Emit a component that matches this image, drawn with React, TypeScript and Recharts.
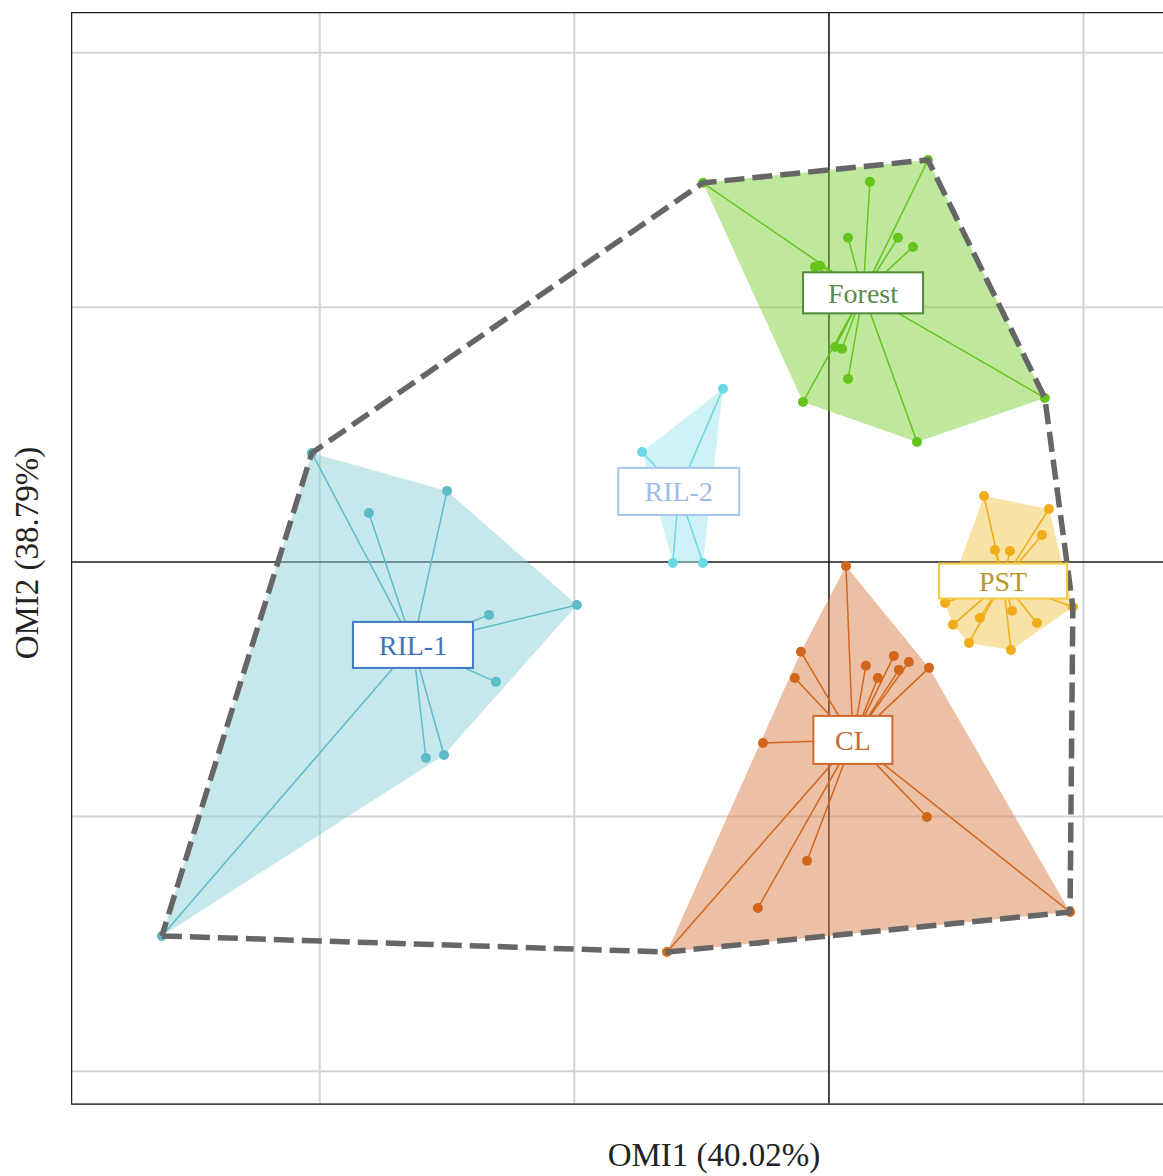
import { Scatter, ScatterChart, XAxis, YAxis } from "recharts";

type Pt = { x: number; y: number };

// OMI scores (OMI1, OMI2) for each site, grouped by land use
const forestPts: Pt[] = [
  { x: 0.161, y: 1.493 }, { x: 0.075, y: 1.273 }, { x: 0.271, y: 1.273 }, { x: 0.33, y: 1.237 },
  { x: -0.055, y: 1.159 }, { x: -0.035, y: 1.163 }, { x: 0.024, y: 0.844 }, { x: 0.051, y: 0.837 },
  { x: 0.075, y: 0.719 }, { x: -0.102, y: 0.628 }, { x: 0.346, y: 0.471 }, { x: 0.848, y: 0.644 },
  { x: 0.389, y: 1.579 }, { x: -0.495, y: 1.489 }
];
const ril2Pts: Pt[] = [
  { x: -0.416, y: 0.68 }, { x: -0.734, y: 0.432 }, { x: -0.613, y: -0.004 }, { x: -0.495, y: -0.004 }
];
const ril1Pts: Pt[] = [
  { x: -2.031, y: 0.428 }, { x: -1.5, y: 0.279 }, { x: -1.807, y: 0.192 }, { x: -0.99, y: -0.169 },
  { x: -1.335, y: -0.208 }, { x: -1.308, y: -0.471 }, { x: -1.583, y: -0.77 }, { x: -1.512, y: -0.758 },
  { x: -2.62, y: -1.469 }
];
const pstPts: Pt[] = [
  { x: 0.609, y: 0.259 }, { x: 0.864, y: 0.208 }, { x: 0.837, y: 0.106 }, { x: 0.652, y: 0.047 },
  { x: 0.711, y: 0.043 }, { x: 0.456, y: -0.161 }, { x: 0.958, y: -0.177 }, { x: 0.593, y: -0.22 },
  { x: 0.719, y: -0.192 }, { x: 0.817, y: -0.24 }, { x: 0.487, y: -0.247 }, { x: 0.55, y: -0.318 },
  { x: 0.715, y: -0.346 }
];
const clPts: Pt[] = [
  { x: 0.067, y: -0.016 }, { x: -0.11, y: -0.353 }, { x: -0.134, y: -0.456 }, { x: 0.145, y: -0.408 },
  { x: 0.255, y: -0.369 }, { x: 0.314, y: -0.393 }, { x: 0.275, y: -0.424 }, { x: 0.192, y: -0.456 },
  { x: 0.393, y: -0.416 }, { x: -0.259, y: -0.711 }, { x: 0.385, y: -1.002 }, { x: -0.086, y: -1.174 },
  { x: -0.279, y: -1.359 }, { x: -0.636, y: -1.532 }, { x: 0.947, y: -1.375 }
];

// group centres (where the class labels sit)
const forestCentre: Pt = { x: 0.134, y: 1.057 };
const ril2Centre: Pt = { x: -0.59, y: 0.277 };
const ril1Centre: Pt = { x: -1.634, y: -0.326 };
const pstCentre: Pt = { x: 0.684, y: -0.075 };
const clCentre: Pt = { x: 0.094, y: -0.699 };

const xTicks = [-2, -1, 0, 1];
const yTicks = [-2, -1, 0, 1, 2];
const X_DOMAIN: [number, number] = [-2.977, 1.3396];
const Y_DOMAIN: [number, number] = [-2.133, 2.16];

const SERIF = "'Liberation Serif', 'Times New Roman', serif";

const groups = [
  { name: "RIL-1", pts: ril1Pts, centre: ril1Centre, line: "#5ebcc8", fill: "#8ecfd8", box: "#3f79c4", text: "#3f74bb", w: 120, h: 46 },
  { name: "RIL-2", pts: ril2Pts, centre: ril2Centre, line: "#6ad9e6", fill: "#9fe6ee", box: "#a7c6ee", text: "#9bbde6", w: 121, h: 47 },
  { name: "Forest", pts: forestPts, centre: forestCentre, line: "#66c41e", fill: "#7fd13b", box: "#4e8a3a", text: "#5a8a4a", w: 120, h: 41 },
  { name: "PST", pts: pstPts, centre: pstCentre, line: "#efad1a", fill: "#f2c54d", box: "#f5c842", text: "#b8952a", w: 128, h: 35 },
  { name: "CL", pts: clPts, centre: clCentre, line: "#d2661c", fill: "#d9824a", box: "#d06a2c", text: "#c86a30", w: 79, h: 48 }
];

// monotone chain convex hull
function hull(pts: Pt[]): Pt[] {
  const s = [...pts].sort((a, b) => a.x - b.x || a.y - b.y);
  const cross = (o: Pt, a: Pt, b: Pt) => (a.x - o.x) * (b.y - o.y) - (a.y - o.y) * (b.x - o.x);
  const lower: Pt[] = [];
  for (const p of s) {
    while (lower.length >= 2 && cross(lower[lower.length - 2], lower[lower.length - 1], p) <= 0) lower.pop();
    lower.push(p);
  }
  const upper: Pt[] = [];
  for (const p of s.reverse()) {
    while (upper.length >= 2 && cross(upper[upper.length - 2], upper[upper.length - 1], p) <= 0) upper.pop();
    upper.push(p);
  }
  upper.pop();
  lower.pop();
  return lower.concat(upper);
}

// centre -> p1 -> centre -> p2 ... gives the spider lines as one path
function star(c: Pt, pts: Pt[]): Pt[] {
  const out: Pt[] = [];
  pts.forEach((p) => out.push(c, p));
  return out;
}

const allHull = hull(groups.flatMap((g) => g.pts));
const outline = [...allHull, allHull[0]];

const [x0, x1] = X_DOMAIN;
const [y0, y1] = Y_DOMAIN;

const noDot = () => <g />;

// straight segment drawn through the chart scales
const seg = (key: string, a: Pt, b: Pt, stroke: string, width: number) => (
  <Scatter
    key={key}
    data={[a, b]}
    shape={noDot}
    line={{ stroke, strokeWidth: width }}
    isAnimationActive={false}
  />
);

export default function App() {
  return (
    <div style={{ position: "absolute", left: 0, top: 0, width: 1163, height: 1176, overflow: "hidden", background: "#fff" }}>
      <ScatterChart width={1200} height={1176} margin={{ top: 12, right: 30, bottom: 71, left: 71 }}>
        <XAxis type="number" dataKey="x" domain={X_DOMAIN} allowDataOverflow hide />
        <YAxis type="number" dataKey="y" domain={Y_DOMAIN} allowDataOverflow hide />

        {/* grid */}
        {xTicks.filter((t) => t !== 0).map((t) => seg(`gx${t}`, { x: t, y: y0 }, { x: t, y: y1 }, "#d4d4d4", 2))}
        {yTicks.filter((t) => t !== 0).map((t) => seg(`gy${t}`, { x: x0, y: t }, { x: x1, y: t }, "#d4d4d4", 2))}

        {/* zero axes */}
        {seg("zx", { x: 0, y: y0 }, { x: 0, y: y1 }, "#1a1a1a", 1.6)}
        {seg("zy", { x: x0, y: 0 }, { x: x1, y: 0 }, "#1a1a1a", 1.6)}

        {/* class hulls */}
        {groups.map((g) => (
          <Scatter
            key={`hull-${g.name}`}
            data={hull(g.pts)}
            shape={noDot}
            line={{ fill: g.fill, fillOpacity: 0.5, stroke: "none" }}
            isAnimationActive={false}
          />
        ))}

        {/* spider lines */}
        {groups.map((g) => (
          <Scatter
            key={`star-${g.name}`}
            data={star(g.centre, g.pts)}
            shape={noDot}
            line={{ stroke: g.line, strokeWidth: 1.5 }}
            isAnimationActive={false}
          />
        ))}

        {/* sites */}
        {groups.map((g) => (
          <Scatter
            key={`pts-${g.name}`}
            data={g.pts}
            isAnimationActive={false}
            shape={(p: any) => <circle cx={p.cx} cy={p.cy} r={5} fill={g.line} />}
          />
        ))}

        {/* overall hull */}
        <Scatter
          data={outline}
          shape={noDot}
          line={{ stroke: "#666", strokeWidth: 5.5, strokeDasharray: "20 8", fill: "none" }}
          isAnimationActive={false}
        />

        {/* frame */}
        {seg("ft", { x: x0, y: y1 }, { x: x1, y: y1 }, "#222", 2.5)}
        {seg("fl", { x: x0, y: y0 }, { x: x0, y: y1 }, "#222", 2.5)}
        {seg("fb", { x: x0, y: y0 }, { x: x1, y: y0 }, "#4a4a4a", 3.5)}

        {/* class labels */}
        {groups.map((g) => (
          <Scatter
            key={`lab-${g.name}`}
            data={[g.centre]}
            isAnimationActive={false}
            shape={(p: any) => (
              <g>
                <rect
                  x={p.cx - g.w / 2}
                  y={p.cy - g.h / 2}
                  width={g.w}
                  height={g.h}
                  fill="#fff"
                  stroke={g.box}
                  strokeWidth={2}
                />
                <text
                  x={p.cx}
                  y={p.cy}
                  dy="0.35em"
                  textAnchor="middle"
                  fontFamily={SERIF}
                  fontSize={28}
                  fill={g.text}
                >
                  {g.name}
                </text>
              </g>
            )}
          />
        ))}
      </ScatterChart>

      {/* axis titles */}
      <svg width={1163} height={1176} style={{ position: "absolute", left: 0, top: 0, pointerEvents: "none" }}>
        <text x={714} y={1166} textAnchor="middle" fontFamily={SERIF} fontSize={33} fill="#222">
          OMI1 (40.02%)
        </text>
        <text
          x={38}
          y={553}
          transform="rotate(-90 38 553)"
          textAnchor="middle"
          fontFamily={SERIF}
          fontSize={33}
          fill="#222"
        >
          OMI2 (38.79%)
        </text>
      </svg>
    </div>
  );
}
